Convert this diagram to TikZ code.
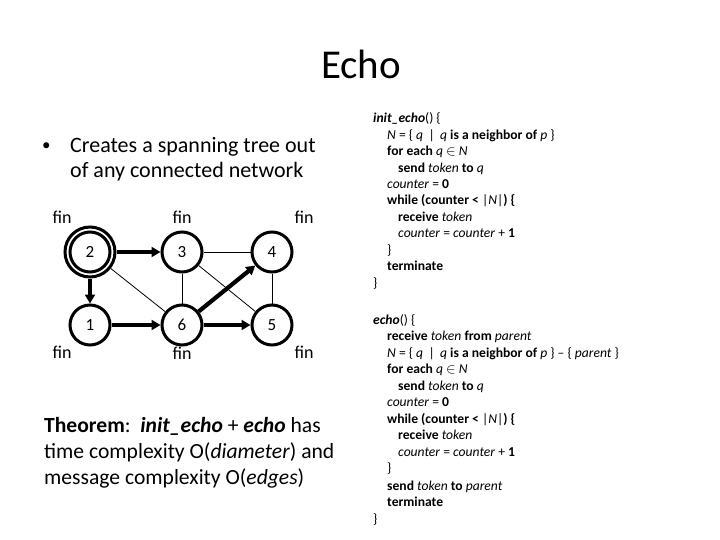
\documentclass[tikz,border=0pt]{standalone}
\usepackage{fontspec}
\setmainfont{Carlito}
\usetikzlibrary{arrows.meta}
\begin{document}
\begin{tikzpicture}[x=1pt,y=-1pt,
  vert/.style={circle,draw,line width=3pt,minimum size=40pt,inner sep=0pt,font=\fontsize{17}{17}\selectfont},
  tree/.style={line width=4.2pt,-{Triangle[length=9pt,width=10pt]}},
  thin/.style={line width=0.8pt},
  finlab/.style={font=\fontsize{18}{18}\selectfont,inner sep=0pt},
  txt/.style={anchor=base west,inner sep=0pt},
  code/.style={anchor=base west,inner sep=0pt,font=\fontsize{13.6}{13.6}\selectfont}]
\useasboundingbox (0,0) rectangle (720,540);
\node[inner sep=0pt,anchor=base,font=\fontsize{41}{41}\selectfont] (title) at (361,79) {Echo};
% bullet
\node[txt,font=\fontsize{17}{17}\selectfont] (bul) at (42,151) {•};
\node[txt,font=\fontsize{22}{22}\selectfont] (b1) at (70,153) {Creates a spanning tree out};
\node[txt,font=\fontsize{22}{22}\selectfont] (b2) at (70,178) {of any connected network};
% graph
\node[vert] (n2) at (90,252) {2};
\node[circle,draw,line width=3pt,minimum size=50pt,inner sep=0pt] (n2o) at (90,252) {};
\node[vert] (n3) at (182,252) {3};
\node[vert] (n4) at (272,252) {4};
\node[vert] (n1) at (90,325) {1};
\node[vert] (n6) at (182,325) {6};
\node[vert] (n5) at (272,325) {5};
\node[finlab] (f2) at (62,217) {fin};
\node[finlab] (f3) at (182,217) {fin};
\node[finlab] (f4) at (304,217) {fin};
\node[finlab] (f1) at (62,352) {fin};
\node[finlab] (f6) at (182,353) {fin};
\node[finlab] (f5) at (304,352) {fin};
\draw[thin] (n3) -- (n4);
\draw[thin] (n3) -- (n6);
\draw[thin] (n4) -- (n5);
\draw[thin] (n2o) -- (n6);
\draw[thin] (n3) -- (n5);
\draw[tree] (n2o) -- (n3);
\draw[tree] (n2o) -- (n1);
\draw[tree] (n1) -- (n6);
\draw[tree] (n6) -- (n5);
\draw[tree] (n6) -- (n4);
% theorem
\node[txt,font=\fontsize{21.6}{21.6}\selectfont] (t1) at (44,432) {\textbf{Theorem}:\ \ \textbf{\textit{init\_echo}} + \textbf{\textit{echo}} has};
\node[txt,font=\fontsize{21.6}{21.6}\selectfont] (t2) at (44,458) {time complexity O(\textit{diameter}) and};
\node[txt,font=\fontsize{21.6}{21.6}\selectfont] (t3) at (44,484) {message complexity O(\textit{edges})};
% init_echo code
\node[code] (i0) at (373,123) {\textbf{\textit{init\_echo}}() \{};
\node[code] (i1) at (387,139.4) {\textit{N} = \{ \textit{q} \,|\, \textit{q} \textbf{is a neighbor of} \textit{p} \}};
\node[code] (i2) at (387,155.8) {\textbf{for each} \textit{q} $\mathbin{\large\in}$ \textit{N}};
\node[code] (i3) at (398,172.2) {\textbf{send} \textit{token} \textbf{to} \textit{q}};
\node[code] (i4) at (387,188.6) {\textit{counter} = \textbf{0}};
\node[code] (i5) at (387,205) {\textbf{while (counter <} |\textit{N}|\textbf{) \{}};
\node[code] (i6) at (398,221.4) {\textbf{receive} \textit{token}};
\node[code] (i7) at (398,237.8) {\textit{counter} = \textit{counter} + \textbf{1}};
\node[code] (i8) at (387,254.2) {\}};
\node[code] (i9) at (387,270.6) {\textbf{terminate}};
\node[code] (i10) at (373,287) {\}};
% echo code
\node[code] (e0) at (373,324) {\textbf{\textit{echo}}() \{};
\node[code] (e1) at (387,340.5) {\textbf{receive} \textit{token} \textbf{from} \textit{parent}};
\node[code] (e2) at (387,357) {\textit{N} = \{ \textit{q} \,|\, \textit{q} \textbf{is a neighbor of} \textit{p} \} – \{ \textit{parent} \}};
\node[code] (e3) at (387,373.5) {\textbf{for each} \textit{q} $\mathbin{\large\in}$ \textit{N}};
\node[code] (e4) at (398,390) {\textbf{send} \textit{token} \textbf{to} \textit{q}};
\node[code] (e5) at (387,406.5) {\textit{counter} = \textbf{0}};
\node[code] (e6) at (387,423) {\textbf{while (counter <} |\textit{N}|\textbf{) \{}};
\node[code] (e7) at (398,439.5) {\textbf{receive} \textit{token}};
\node[code] (e8) at (398,456) {\textit{counter} = \textit{counter} + \textbf{1}};
\node[code] (e9) at (387,472.5) {\}};
\node[code] (e10) at (387,490) {\textbf{send} \textit{token} \textbf{to} \textit{parent}};
\node[code] (e11) at (387,506.5) {\textbf{terminate}};
\node[code] (e12) at (373,523) {\}};
\end{tikzpicture}
\end{document}
